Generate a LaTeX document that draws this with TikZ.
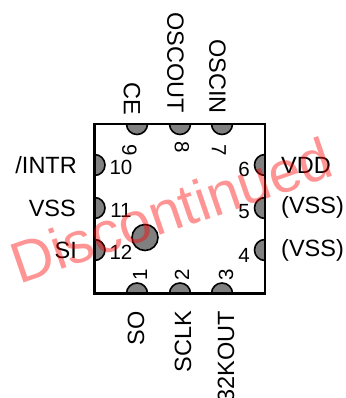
\documentclass[tikz,border=0pt]{standalone}
\usepackage{fontspec}
\setmainfont{Liberation Sans}
\tikzset{
 x=1pt,y=-1pt,
 padfill/.style={fill=black!50,draw=black,line width=1.6pt},
 lab/.style={inner sep=0pt,font=\fontsize{23.5}{24}\selectfont},
 num/.style={inner sep=0pt,font=\fontsize{20.5}{21}\selectfont},
 wm/.style={inner sep=0pt,text=red,text opacity=.42,font=\fontsize{58}{60}\selectfont}
}
\begin{document}
\begin{tikzpicture}
\useasboundingbox (0,0) rectangle (345,398);
% top pads
\foreach \x in {137,180,222}{\draw[padfill] (\x-10.5,124) arc[start angle=180,end angle=360,x radius=10.5,y radius=-10.5] -- cycle;}
% bottom pads
\foreach \x in {137,180,222}{\draw[padfill] (\x-10.5,293.5) arc[start angle=180,end angle=0,x radius=10.5,y radius=-10.5] -- cycle;}
% left pads
\foreach \y in {165,208,250}{\draw[padfill] (94.5,\y-10.5) arc[start angle=90,end angle=-90,x radius=10.5,y radius=-10.5] -- cycle;}
% right pads
\foreach \y in {165,208,250}{\draw[padfill] (265,\y-10.5) arc[start angle=90,end angle=270,x radius=10.5,y radius=-10.5] -- cycle;}
\node[circle,fill=black!50,draw=black,line width=1.6pt,minimum size=26pt,inner sep=0pt] (mark) at (145,237.5) {};
\draw[line width=2.4pt] (94.5,124) rectangle (265,293.5);
% labels
\node[lab,rotate=-90,anchor=west] (ce) at (132,82) {CE};
\node[lab,rotate=-90,anchor=west] (oscout) at (175.5,12) {OSCOUT};
\node[lab,rotate=-90,anchor=west] (oscin) at (217.5,39) {OSCIN};
\node[lab,anchor=east] (intr) at (77,165) {/INTR};
\node[lab,anchor=east] (vss) at (76,208) {VSS};
\node[lab,anchor=east] (si) at (77,250) {SI};
\node[lab,anchor=west] (vdd) at (281,165) {VDD};
\node[lab,anchor=west] (vss5) at (281,207) {(VSS)};
\node[lab,anchor=west] (vss4) at (281,250) {(VSS)};
\node[lab,rotate=90,anchor=east] (so) at (136,311) {SO};
\node[lab,rotate=90,anchor=east] (sclk) at (183,311) {SCLK};
\node[lab,rotate=90,anchor=east] (k32) at (226,311) {32KOUT};
% numbers
\node[num] (n10) at (121,167) {10};
\node[num] (n11) at (121,210) {11};
\node[num] (n12) at (121,252) {12};
\node[num] (n6) at (244,169.5) {6};
\node[num] (n5) at (244,212) {5};
\node[num] (n4) at (244,255) {4};
\node[num,rotate=-90] (n9) at (129.5,150) {9};
\node[num,rotate=-90] (n8) at (182,147) {8};
\node[num,rotate=-90] (n7) at (219,150) {7};
\node[num,rotate=90] (n1) at (140,275) {1};
\node[num,rotate=90] (n2) at (182,275) {2};
\node[num,rotate=90] (n3) at (226,275) {3};
\node[wm,rotate=19] (wm) at (171,210) {Discontinued};
\end{tikzpicture}
\end{document}
